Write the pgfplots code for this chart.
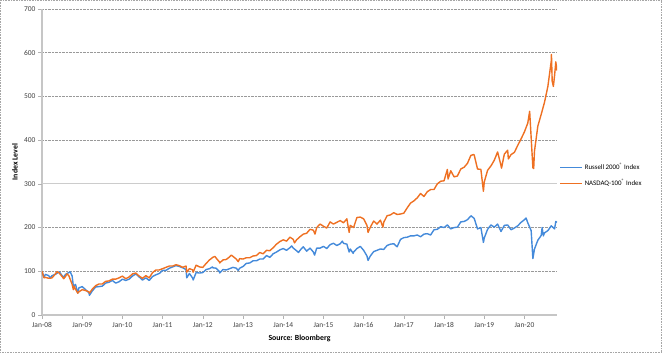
\documentclass[border=0pt]{standalone}
\usepackage{pgfplots}
\usepackage{pgfplotstable}
\pgfplotsset{compat=1.18}
\usepackage{fontspec}
\setmainfont{Carlito}
\definecolor{rblue}{RGB}{68,138,218}
\definecolor{norange}{RGB}{238,112,34}
\pgfplotstableread{
x y
2008.000 100
2008.050 85
2008.083 86
2008.167 84
2008.200 84
2008.250 85
2008.333 94
2008.370 99
2008.417 97
2008.500 88
2008.540 83
2008.583 88
2008.620 94
2008.667 90
2008.750 70
2008.780 58
2008.800 66
2008.833 59
2008.890 50
2008.917 53
2009.000 58
2009.083 56
2009.167 53
2009.180 50
2009.250 59
2009.333 67
2009.417 71
2009.500 71
2009.583 77
2009.667 78
2009.750 82
2009.833 82
2009.917 85
2010.000 89
2010.083 83
2010.167 87
2010.250 94
2010.333 96
2010.417 89
2010.500 84
2010.583 90
2010.667 85
2010.750 97
2010.833 103
2010.917 103
2011.000 106
2011.083 109
2011.167 112
2011.250 112
2011.333 115
2011.417 113
2011.500 109
2011.583 112
2011.600 98
2011.667 106
2011.750 103
2011.760 98
2011.833 114
2011.917 110
2012.000 109
2012.083 118
2012.167 126
2012.250 132
2012.300 134
2012.333 130
2012.417 121
2012.420 119
2012.500 126
2012.583 127
2012.667 133
2012.710 137
2012.750 134
2012.833 128
2012.880 122
2012.917 129
2013.000 128
2013.083 131
2013.167 131
2013.250 135
2013.333 136
2013.417 143
2013.500 140
2013.583 148
2013.667 147
2013.750 154
2013.833 162
2013.917 168
2014.000 172
2014.083 169
2014.167 178
2014.250 173
2014.280 165
2014.333 172
2014.417 179
2014.500 185
2014.583 187
2014.667 196
2014.750 194
2014.790 185
2014.833 200
2014.917 208
2015.000 203
2015.083 199
2015.167 213
2015.250 208
2015.333 212
2015.417 216
2015.500 211
2015.583 220
2015.640 189
2015.667 205
2015.750 200
2015.833 223
2015.917 224
2016.000 220
2016.083 205
2016.110 189
2016.167 201
2016.250 215
2016.333 208
2016.417 217
2016.480 201
2016.500 212
2016.583 227
2016.667 229
2016.750 234
2016.833 230
2016.917 231
2017.000 233
2017.083 245
2017.167 256
2017.250 261
2017.333 268
2017.417 278
2017.500 271
2017.583 282
2017.667 287
2017.750 287
2017.833 300
2017.917 306
2018.000 307
2018.083 333
2018.100 311
2018.167 330
2018.250 316
2018.333 318
2018.417 334
2018.500 338
2018.583 347
2018.667 365
2018.730 367
2018.750 366
2018.833 334
2018.917 333
2018.980 283
2019.000 304
2019.083 331
2019.167 341
2019.250 354
2019.333 373
2019.417 342
2019.430 336
2019.500 368
2019.583 377
2019.600 357
2019.667 367
2019.750 372
2019.833 388
2019.917 403
2020.000 419
2020.083 439
2020.130 466
2020.167 406
2020.210 337
2020.230 335
2020.250 375
2020.333 432
2020.417 459
2020.500 487
2020.583 523
2020.667 581
2020.672 596
2020.690 535
2020.720 523
2020.750 548
2020.780 579
2020.810 559
}\ndx
\pgfplotstableread{
x y
2008.000 100
2008.050 86
2008.083 93
2008.167 90
2008.200 85
2008.250 90
2008.333 93
2008.417 98
2008.430 99
2008.500 90
2008.540 86
2008.583 93
2008.667 97
2008.700 99
2008.750 89
2008.780 66
2008.833 70
2008.890 50
2008.917 62
2009.000 65
2009.083 58
2009.167 51
2009.180 45
2009.250 55
2009.333 64
2009.417 65
2009.500 66
2009.583 73
2009.667 75
2009.750 79
2009.833 73
2009.917 76
2010.000 82
2010.083 79
2010.167 82
2010.250 89
2010.333 94
2010.417 87
2010.500 80
2010.583 85
2010.667 79
2010.750 88
2010.833 92
2010.917 95
2011.000 102
2011.083 102
2011.167 107
2011.250 110
2011.333 113
2011.417 111
2011.500 108
2011.583 104
2011.600 85
2011.667 95
2011.750 84
2011.760 80
2011.833 97
2011.917 96
2012.000 97
2012.083 104
2012.167 106
2012.240 110
2012.250 108
2012.333 107
2012.417 99
2012.420 96
2012.500 104
2012.583 103
2012.667 106
2012.750 109
2012.833 107
2012.880 102
2012.917 107
2013.000 111
2013.083 118
2013.167 119
2013.250 124
2013.333 124
2013.417 128
2013.500 128
2013.583 136
2013.667 132
2013.750 140
2013.833 144
2013.917 149
2014.000 152
2014.083 148
2014.167 154
2014.210 158
2014.250 153
2014.333 147
2014.380 143
2014.417 148
2014.500 156
2014.583 146
2014.667 153
2014.750 144
2014.780 137
2014.833 153
2014.917 153
2015.000 157
2015.083 152
2015.167 161
2015.250 164
2015.333 159
2015.417 163
2015.470 169
2015.500 164
2015.583 162
2015.640 144
2015.667 151
2015.740 141
2015.750 144
2015.833 152
2015.917 157
2016.000 148
2016.083 135
2016.110 125
2016.167 135
2016.250 145
2016.333 148
2016.417 151
2016.500 150
2016.583 159
2016.667 162
2016.750 163
2016.833 156
2016.917 173
2017.000 177
2017.083 178
2017.167 181
2017.250 181
2017.333 183
2017.417 179
2017.500 185
2017.583 186
2017.667 183
2017.750 195
2017.833 196
2017.917 202
2018.000 200
2018.083 206
2018.167 197
2018.250 200
2018.333 201
2018.417 213
2018.500 214
2018.583 218
2018.670 227
2018.750 221
2018.833 197
2018.917 200
2018.980 166
2019.000 176
2019.083 196
2019.167 206
2019.250 201
2019.333 208
2019.417 191
2019.500 205
2019.583 206
2019.667 195
2019.750 199
2019.833 204
2019.917 212
2020.000 218
2020.040 222
2020.083 211
2020.167 193
2020.210 129
2020.250 151
2020.333 171
2020.417 182
2020.440 200
2020.470 181
2020.500 188
2020.583 193
2020.667 204
2020.750 197
2020.780 214
2020.810 212
}\rut
\begin{document}
\begin{tikzpicture}
\draw[gray!70, densely dotted, line width=0.6pt] (-41.7pt,-37.7pt) rectangle (619.7pt,314.7pt);
\begin{axis}[
  at={(0,0)}, anchor=south west,
  scale only axis, width=515pt, height=306pt,
  xmin=2008, xmax=2020.81, ymin=0, ymax=700,
  axis x line*=bottom, axis y line*=left,
  axis line style={gray!45, line width=1.1pt},
  xtick={2008,2009,2010,2011,2012,2013,2014,2015,2016,2017,2018,2019,2020},
  xticklabels={Jan-08,Jan-09,Jan-10,Jan-11,Jan-12,Jan-13,Jan-14,Jan-15,Jan-16,Jan-17,Jan-18,Jan-19,Jan-20},
  ytick={0,100,200,400,500,600,700},
  extra y ticks={300},
  extra y tick style={grid style={solid, gray!40, line width=1.1pt}},
  ymajorgrids,
  grid style={densely dotted, gray!80, line width=0.5pt},
  tick align=outside, major tick length=4pt,
  tick style={gray!60, line width=0.6pt},
  /pgf/number format/assume math mode=true,
  ticklabel style={font=\fontsize{7.5}{8}\selectfont, color=black!75},
  yticklabel style={xshift=1pt},
  xlabel={\textbf{Source: Bloomberg}},
  ylabel={\textbf{Index Level}},
  xlabel style={at={(axis description cs:0.5,-0.075)}, anchor=center, font=\fontsize{7.8}{8}\selectfont},
  ylabel style={at={(axis description cs:-0.0524,0.5)}, anchor=center, rotate=0, font=\fontsize{7.8}{8}\selectfont},
  legend style={draw=none, fill=none, at={(1.005,0.456)}, anchor=west,
    font=\fontsize{6.9}{7}\selectfont, row sep=4pt, inner sep=0pt},
  legend cell align=left,
  legend image code/.code={\draw[#1, line width=1pt] (0pt,0pt) -- (22pt,0pt);},
]
\addplot[color=rblue, line width=1.4pt, line join=round] table[x=x,y=y] {\rut};
\addlegendentry{Russell 2000\textsuperscript{®} Index}
\addplot[color=norange, line width=1.4pt, line join=round] table[x=x,y=y] {\ndx};
\addlegendentry{NASDAQ-100\textsuperscript{®} Index}
\end{axis}
\end{tikzpicture}
\end{document}
